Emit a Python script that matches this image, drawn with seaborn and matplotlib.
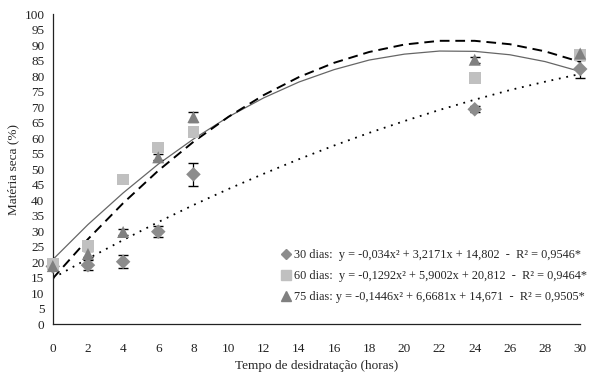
import numpy as np
import pandas as pd
import matplotlib
matplotlib.use("Agg")
import matplotlib.pyplot as plt
import seaborn as sns
from matplotlib.lines import Line2D

horas = [0, 2, 4, 6, 8, 24, 30]
ms_30 = [18.6, 19.0, 20.1, 29.8, 48.3, 69.3, 82.3]
ms_60 = [19.3, 25.2, 46.7, 57.0, 62.0, 79.3, 86.8]
ms_75 = [18.7, 22.6, 29.7, 53.8, 66.8, 85.3, 87.3]
err_30 = [1.0, 1.7, 2.1, 1.8, 3.8, 1.0, 2.8]
err_75 = [0.8, 1.0, 1.0, 1.0, 1.5, 1.0, 1.0]

# trend curves read at every 2 hours
hc = [0, 2, 4, 6, 8, 10, 12, 14, 16, 18, 20, 22, 24, 26, 28, 30]
tr_30 = [14.8, 21.1, 27.1, 32.9, 38.4, 43.6, 48.5, 53.2, 57.6, 61.7, 65.5, 69.1, 72.4, 75.5, 78.2, 80.7]
tr_60 = [20.8, 32.1, 42.3, 51.6, 59.7, 66.9, 73.0, 78.1, 82.1, 85.2, 87.1, 88.1, 88.0, 86.9, 84.7, 81.5]
tr_75 = [14.7, 27.4, 39.0, 49.5, 58.8, 66.9, 73.9, 79.7, 84.3, 87.8, 90.2, 91.4, 91.4, 90.3, 88.0, 84.6]

labels = ["30 dias:  y = -0,034x² + 3,2171x + 14,802  -  R² = 0,9546*",
          "60 dias:  y = -0,1292x² + 5,9002x + 20,812  -  R² = 0,9464*",
          "75 dias: y = -0,1446x² + 6,6681x + 14,671  -  R² = 0,9505*"]

sns.set_style("white")
plt.rcParams['font.family'] = ['Liberation Serif', 'DejaVu Serif']

fig, ax = plt.subplots(figsize=(6, 3.83), dpi=100)
fig.subplots_adjust(left=0.088, right=0.967, bottom=0.154, top=0.963)

c30, c60, c75 = "#8c8c8c", "#c0c0c0", "#808080"

sns.lineplot(x=hc, y=tr_60, ax=ax, color="#666666", lw=0.9, zorder=2)
sns.lineplot(x=hc, y=tr_75, ax=ax, color="black", lw=1.4, zorder=2)
ax.lines[-1].set_dashes((5, 3))
sns.lineplot(x=hc, y=tr_30, ax=ax, color="black", lw=1.3, zorder=2)
ax.lines[-1].set_dashes((1, 3.2))

ax.errorbar(horas, ms_30, yerr=err_30, fmt="none", ecolor="black", elinewidth=0.9, capsize=3.5, zorder=3, clip_on=False)
ax.errorbar(horas, ms_75, yerr=err_75, fmt="none", ecolor="black", elinewidth=0.9, capsize=3.5, zorder=3, clip_on=False)

sns.scatterplot(x=horas, y=ms_30, ax=ax, marker="D", color=c30, s=55, edgecolor="none", zorder=4, clip_on=False)
sns.scatterplot(x=horas, y=ms_60, ax=ax, marker="s", color=c60, s=70, edgecolor="none", zorder=4, clip_on=False)
sns.scatterplot(x=horas, y=ms_75, ax=ax, marker="^", color=c75, s=75, edgecolor="none", zorder=5, clip_on=False)

ax.set_xlim(0, 30)
ax.set_ylim(0, 100)
ax.set_xticks(range(0, 31, 2))
ax.set_yticks(range(0, 101, 5))
ax.tick_params(axis="x", direction="out", length=3, width=0.8, pad=11, colors="#222222", labelsize=9.5)
ax.tick_params(axis="y", direction="out", length=3, width=0.8, pad=3, colors="#222222", labelsize=9.5)
sns.despine(ax=ax)
for s in ["left", "bottom"]:
    ax.spines[s].set_color("#222222")
    ax.spines[s].set_linewidth(0.9)

ax.set_xlabel("Tempo de desidratação (horas)", fontsize=9.5, labelpad=3)
ax.set_ylabel("Matéria seca (%)", fontsize=9.5, labelpad=4)

handles = [Line2D([], [], ls="none", marker="D", color=c30, markersize=5.5),
           Line2D([], [], ls="none", marker="s", color=c60, markersize=7),
           Line2D([], [], ls="none", marker="^", color=c75, markersize=7.5)]
ax.legend(handles, labels, loc="upper left", bbox_to_anchor=(0.415, 0.278), frameon=False,
          handlelength=0.6, handletextpad=0.3, labelspacing=0.75, fontsize=8.8)

fig.savefig("out.png", dpi=100)
